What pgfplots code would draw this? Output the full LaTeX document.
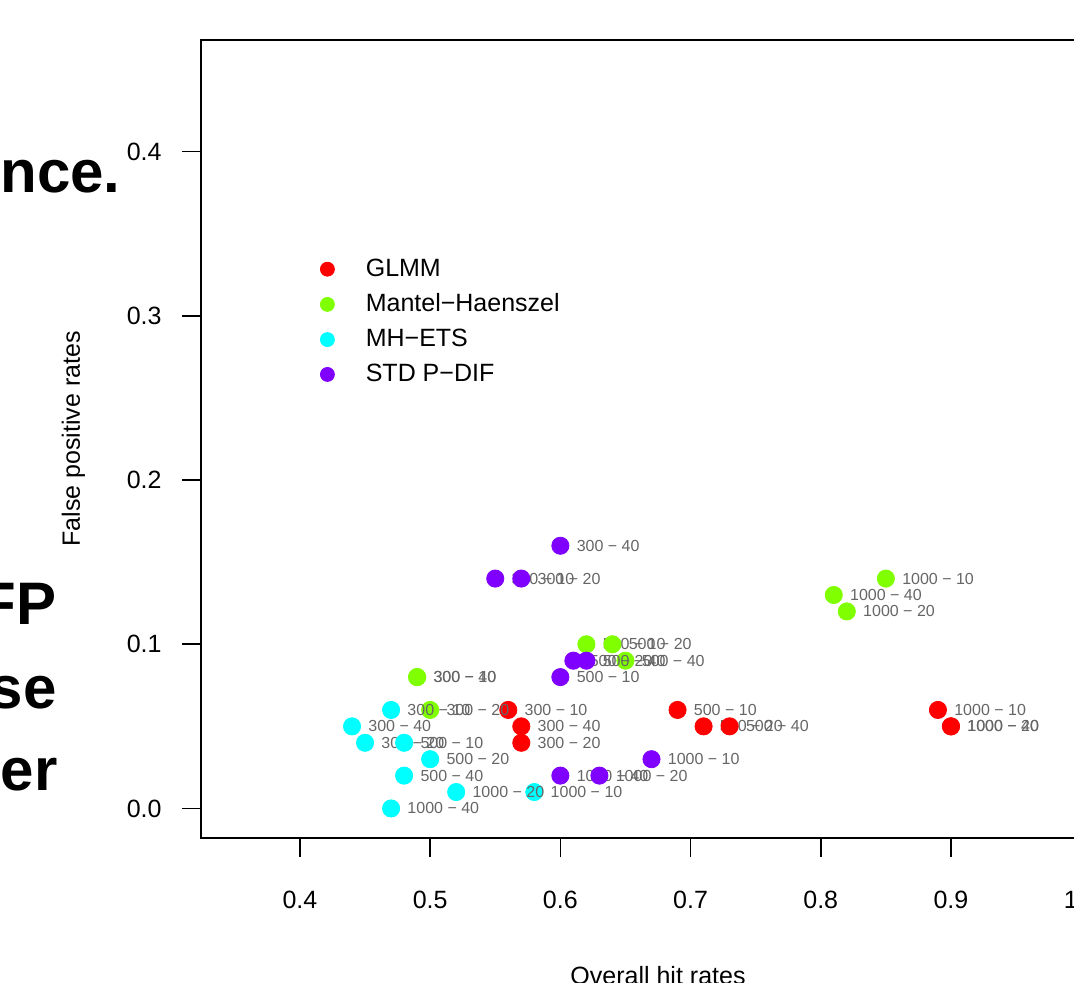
\documentclass[border=0pt]{standalone}
\usepackage{pgfplots}
\pgfplotsset{compat=1.18}
\usepackage{fontspec}
\setmainfont{Liberation Sans}
\definecolor{cGLMM}{HTML}{FF0000}
\definecolor{cMH}{HTML}{80FF00}
\definecolor{cETS}{HTML}{00FFFF}
\definecolor{cSTD}{HTML}{8000FF}
\definecolor{lab}{HTML}{666666}
\begin{document}
\begin{tikzpicture}[x=1pt,y=1pt]
\useasboundingbox (0,0) rectangle (537,491);
\clip (0,0) rectangle (537,491);
\node[anchor=base east, font=\fontsize{30}{36}\selectfont\bfseries, inner sep=0pt] at (60.5,395) {nce.};
\node[anchor=base east, font=\fontsize{30}{36}\selectfont\bfseries, inner sep=0pt] at (28.5,179) {FP};
\node[anchor=base east, font=\fontsize{30}{36}\selectfont\bfseries, inner sep=0pt] at (28.5,137) {se};
\node[anchor=base east, font=\fontsize{30}{36}\selectfont\bfseries, inner sep=0pt] at (29,96) {er};
\begin{axis}[
  at={(100.5pt,72pt)}, anchor=south west,
  scale only axis, width=457pt, height=399pt,
  xmin=0.324, xmax=1.026, ymin=-0.018, ymax=0.468,
  clip=false,
  xtick={0.4,0.5,0.6,0.7,0.8,0.9,1},
  ytick={0,0.1,0.2,0.3,0.4},
  /pgf/number format/assume math mode=true,
  yticklabel style={/pgf/number format/fixed, /pgf/number format/fixed zerofill, /pgf/number format/precision=1},
  xticklabel style={/pgf/number format/fixed, /pgf/number format/fixed zerofill, /pgf/number format/precision=1},
  tick align=outside, xtick pos=left, ytick pos=left,
  major tick length=9.5pt,
  every tick/.style={black, line width=0.8pt},
  axis line style={line width=0.8pt},
  tick label style={font=\fontsize{12.5}{15}\selectfont, inner sep=0pt},
  xticklabel style={anchor=base, yshift=-25.5pt},
  yticklabel style={anchor=east, xshift=-10pt},
  xlabel={Overall hit rates},
  ylabel={False positive rates},
  label style={font=\fontsize{12.5}{15}\selectfont, inner sep=0pt},
  xlabel style={at={(axis description cs:0.5,-0.1835)}, anchor=base},
  ylabel style={at={(axis description cs:-0.1324,0.5)}, anchor=base},
  legend style={draw=none, fill=none, at={(axis description cs:0.1302,0.7256)}, anchor=north west,
    inner sep=0pt, outer sep=0pt, row sep=7.2pt, column sep=15.5pt,
    font=\fontsize{12.5}{15}\selectfont, nodes={inner sep=0pt}},
  legend cell align=left,
  legend image code/.code={\fill[#1] (0,0) circle (3.5pt);},
  nodes near coords align=horizontal,
  every node near coord/.append style={anchor=west, xshift=8pt, inner sep=0pt, font=\fontsize{8}{9.6}\selectfont, text=lab},
]
\addplot[only marks, mark=*, mark size=4.3pt, color=cGLMM, nodes near coords, point meta=explicit symbolic] coordinates {
(0.56,0.06)[300 − 10] (0.57,0.05)[300 − 40] (0.57,0.04)[300 − 20]
(0.69,0.06)[500 − 10] (0.71,0.05)[500 − 20] (0.73,0.05)[500 − 40]
(0.89,0.06)[1000 − 10] (0.90,0.05)[1000 − 40] (0.90,0.05)[1000 − 20]
};
\addlegendentry{GLMM}
\addplot[only marks, mark=*, mark size=4.3pt, color=cMH, nodes near coords, point meta=explicit symbolic] coordinates {
(0.49,0.08)[300 − 10] (0.49,0.08)[300 − 40] (0.50,0.06)[300 − 20]
(0.62,0.10)[500 − 10] (0.64,0.10)[500 − 20] (0.65,0.09)[500 − 40]
(0.85,0.14)[1000 − 10] (0.81,0.13)[1000 − 40] (0.82,0.12)[1000 − 20]
};
\addlegendentry{Mantel−Haenszel}
\addplot[only marks, mark=*, mark size=4.3pt, color=cETS, nodes near coords, point meta=explicit symbolic] coordinates {
(0.44,0.05)[300 − 40] (0.47,0.06)[300 − 10] (0.45,0.04)[300 − 20]
(0.48,0.04)[500 − 10] (0.50,0.03)[500 − 20] (0.48,0.02)[500 − 40]
(0.58,0.01)[1000 − 10] (0.52,0.01)[1000 − 20] (0.47,0.00)[1000 − 40]
};
\addlegendentry{MH−ETS}
\addplot[only marks, mark=*, mark size=4.3pt, color=cSTD, nodes near coords, point meta=explicit symbolic] coordinates {
(0.60,0.16)[300 − 40] (0.55,0.14)[300 − 10] (0.57,0.14)[300 − 20]
(0.61,0.09)[500 − 20] (0.62,0.09)[500 − 40] (0.60,0.08)[500 − 10]
(0.67,0.03)[1000 − 10] (0.60,0.02)[1000 − 40] (0.63,0.02)[1000 − 20]
};
\addlegendentry{STD P−DIF}
\end{axis}
\end{tikzpicture}
\end{document}
